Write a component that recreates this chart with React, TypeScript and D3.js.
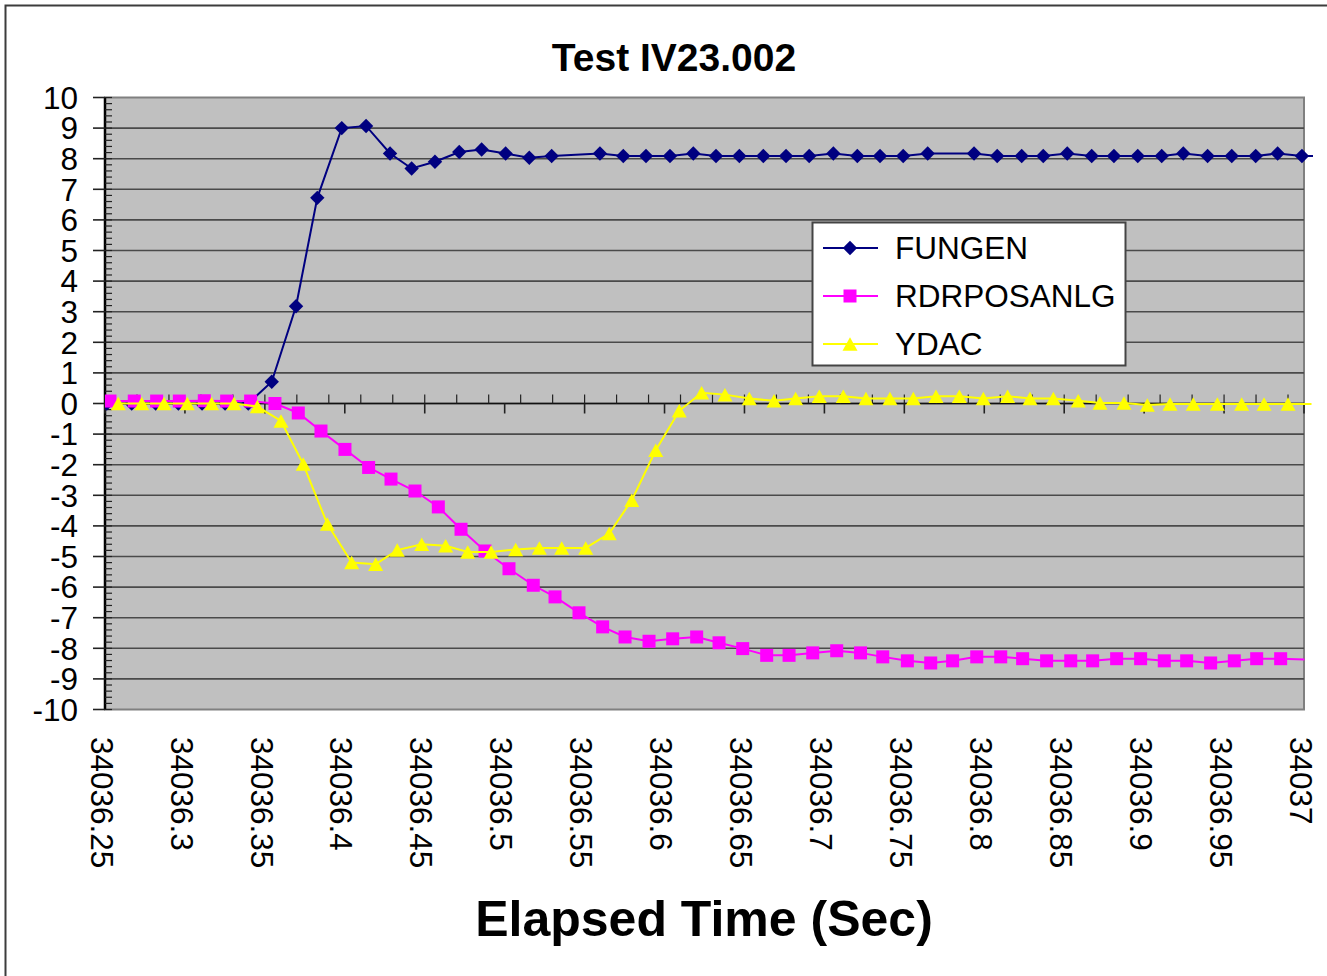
import React from "react";
import * as d3 from "d3";

// ---------- DATA ----------
const seriesNames = ["FUNGEN", "RDRPOSANLG", "YDAC"];

const fungenTime = [
  34036.2511, 34036.2667, 34036.2817, 34036.2959, 34036.3107, 34036.3251, 34036.3396,
  34036.3543, 34036.3695, 34036.3828, 34036.3981, 34036.4133, 34036.4283, 34036.4418,
  34036.4564, 34036.4716, 34036.4856, 34036.5006, 34036.5154, 34036.5294, 34036.5596,
  34036.5742, 34036.5884, 34036.6034, 34036.618, 34036.6322, 34036.6468, 34036.6618,
  34036.676, 34036.6905, 34036.7056, 34036.7206, 34036.7348, 34036.7493, 34036.7646,
  34036.7936, 34036.8081, 34036.8234, 34036.8369, 34036.8519, 34036.8672, 34036.8811,
  34036.896, 34036.911, 34036.9245, 34036.9397, 34036.9548, 34036.9698, 34036.9835,
  34036.9987, 34037.0131,
];
const fungenValue = [
  0, 0, 0, 0, 0, 0, 0,
  0.71, 3.18, 6.72, 9.0, 9.07, 8.17, 7.68,
  7.9, 8.22, 8.3, 8.17, 8.03, 8.09, 8.17,
  8.09, 8.09, 8.09, 8.17, 8.09, 8.09, 8.09,
  8.09, 8.09, 8.17, 8.09, 8.09, 8.09, 8.17,
  8.17, 8.09, 8.09, 8.09, 8.17, 8.09, 8.09,
  8.09, 8.09, 8.17, 8.09, 8.09, 8.09, 8.17,
  8.09, 8.09,
];

const rdrTime = [
  34036.2531, 34036.2683, 34036.2823, 34036.2965, 34036.3121, 34036.3261, 34036.3411,
  34036.3563, 34036.3709, 34036.3851, 34036.4001, 34036.4149, 34036.4289, 34036.4439,
  34036.4585, 34036.4727, 34036.4877, 34036.5027, 34036.5179, 34036.5315, 34036.5465,
  34036.5613, 34036.5753, 34036.5903, 34036.6051, 34036.6201, 34036.6341, 34036.6489,
  34036.6639, 34036.6779, 34036.6927, 34036.7077, 34036.7226, 34036.7365, 34036.7519,
  34036.7665, 34036.7802, 34036.7953, 34036.8103, 34036.824, 34036.839, 34036.8541,
  34036.8678, 34036.8828, 34036.8978, 34036.9126, 34036.9266, 34036.9416, 34036.9564,
  34036.9704, 34036.9854, 34037.0003,
];
const rdrValue = [
  0.08, 0.08, 0.08, 0.08, 0.09, 0.08, 0.08,
  0.0, -0.31, -0.9, -1.5, -2.09, -2.47, -2.86,
  -3.38, -4.11, -4.82, -5.4, -5.94, -6.32, -6.84,
  -7.3, -7.63, -7.77, -7.69, -7.63, -7.82, -8.01,
  -8.23, -8.23, -8.15, -8.08, -8.15, -8.28, -8.41,
  -8.48, -8.41, -8.28, -8.28, -8.34, -8.41, -8.41,
  -8.41, -8.34, -8.34, -8.41, -8.41, -8.48, -8.41,
  -8.34, -8.34, -8.37,
];

const ydacTime = [
  34036.2583, 34036.273, 34036.2869, 34036.3015, 34036.3167, 34036.3307, 34036.3453,
  34036.3601, 34036.374, 34036.3891, 34036.4043, 34036.4193, 34036.4328, 34036.4481,
  34036.4631, 34036.4769, 34036.4915, 34036.5069, 34036.5217, 34036.5357, 34036.5507,
  34036.5654, 34036.5795, 34036.5945, 34036.6092, 34036.6232, 34036.6378, 34036.653,
  34036.6685, 34036.682, 34036.6968, 34036.7118, 34036.726, 34036.741, 34036.7556,
  34036.7698, 34036.7844, 34036.7994, 34036.8146, 34036.8286, 34036.8432, 34036.8588,
  34036.8724, 34036.8874, 34036.902, 34036.9162, 34036.9307, 34036.9458, 34036.961,
  34036.975, 34036.99, 34037.0047,
];
const ydacValue = [
  0, 0, 0, 0, 0, 0, -0.1,
  -0.57, -1.98, -3.94, -5.2, -5.25, -4.79, -4.6,
  -4.65, -4.85, -4.85, -4.77, -4.72, -4.72, -4.72,
  -4.25, -3.16, -1.53, -0.24, 0.35, 0.29, 0.16,
  0.09, 0.16, 0.24, 0.24, 0.16, 0.16, 0.16,
  0.24, 0.24, 0.16, 0.24, 0.16, 0.16, 0.09,
  0.02, 0.02, -0.05, -0.02, -0.02, -0.02, -0.02,
  -0.02, -0.02, -0.02,
];

const xTickLabels = [
  "34036.25", "34036.3", "34036.35", "34036.4", "34036.45", "34036.5", "34036.55",
  "34036.6", "34036.65", "34036.7", "34036.75", "34036.8", "34036.85", "34036.9",
  "34036.95", "34037",
];
const yTickValues = [10, 9, 8, 7, 6, 5, 4, 3, 2, 1, 0, -1, -2, -3, -4, -5, -6, -7, -8, -9, -10];

const titleText = "Test IV23.002";
const xAxisTitle = "Elapsed Time (Sec)";

// ---------- LAYOUT ----------
const W = 1327;
const H = 976;
const plot = { left: 105, right: 1304, top: 97.5, bottom: 709.5 };
const FONT = "'Liberation Sans', Arial, Helvetica, sans-serif";
const colors = ["#000080", "#FF00FF", "#FFFF00"];

const xScale = d3.scaleLinear().domain([34036.25, 34037]).range([plot.left, plot.right]);
const yScale = d3.scaleLinear().domain([-10, 10]).range([plot.bottom, plot.top]);

type Pt = { t: number; v: number };
const zipSeries = (ts: number[], vs: number[]): Pt[] => ts.map((t, i) => ({ t, v: vs[i] }));
const seriesData: Pt[][] = [
  zipSeries(fungenTime, fungenValue),
  zipSeries(rdrTime, rdrValue),
  zipSeries(ydacTime, ydacValue),
];

const lineGen = d3
  .line<Pt>()
  .x((d) => xScale(d.t))
  .y((d) => yScale(d.v));

function Marker({ kind, x, y, color }: { kind: number; x: number; y: number; color: string }) {
  if (kind === 0) {
    const r = 7.2;
    return <path d={`M${x},${y - r}L${x + r},${y}L${x},${y + r}L${x - r},${y}Z`} fill={color} />;
  }
  if (kind === 1) {
    const s = 13;
    return <rect x={x - s / 2} y={y - s / 2} width={s} height={s} fill={color} />;
  }
  const w = 15;
  const h = 13.5;
  return (
    <path d={`M${x},${y - h / 2}L${x + w / 2},${y + h / 2}L${x - w / 2},${y + h / 2}Z`} fill={color} />
  );
}

export default function App() {
  const [xMin, xMax] = xScale.domain();
  const majorX = d3.range(0, 16).map((i) => xMin + i * 0.05);
  const minorX = d3.range(0, 38).map((i) => xMin + i * 0.02).filter((v) => v <= xMax + 1e-9);
  const minorY = d3.range(0, 101).map((i) => -10 + i * 0.2);
  const y0 = yScale(0);

  return (
    <svg
      width={W}
      height={H}
      style={{ position: "absolute", left: 0, top: 0, background: "#fff" }}
      fontFamily={FONT}
    >
      <defs>
        <clipPath id="plotClip">
          <rect x={plot.left} y={plot.top - 8} width={plot.right - plot.left + 9} height={plot.bottom - plot.top + 16} />
        </clipPath>
      </defs>
      {/* chart area border */}
      <rect x={5.5} y={5.5} width={1360} height={1000} fill="#fff" stroke="#3c3c3c" strokeWidth={2} />

      {/* title */}
      <text x={674} y={71} textAnchor="middle" fontSize={39} fontWeight="bold" fill="#000">
        {titleText}
      </text>

      {/* plot area */}
      <rect
        x={plot.left}
        y={plot.top}
        width={plot.right - plot.left}
        height={plot.bottom - plot.top}
        fill="#C0C0C0"
        stroke="#808080"
        strokeWidth={2}
      />
      {/* gridlines */}
      {yTickValues
        .filter((v) => v !== 10 && v !== -10)
        .map((v) => (
          <line
            key={`g${v}`}
            x1={plot.left}
            x2={plot.right}
            y1={yScale(v)}
            y2={yScale(v)}
            stroke="#4a4a4a"
            strokeWidth={1.6}
          />
        ))}

      {/* y axis */}
      <line x1={plot.left} x2={plot.left} y1={plot.top} y2={plot.bottom} stroke="#000" strokeWidth={2.5} />
      {yTickValues.map((v) => (
        <line key={`yt${v}`} x1={plot.left - 12} x2={plot.left} y1={yScale(v)} y2={yScale(v)} stroke="#222" strokeWidth={1.6} />
      ))}
      {minorY.map((v, i) => (
        <line key={`ym${i}`} x1={plot.left} x2={plot.left + 7} y1={yScale(v)} y2={yScale(v)} stroke="#222" strokeWidth={1.2} />
      ))}
      {yTickValues.map((v) => (
        <text
          key={`yl${v}`}
          x={78}
          y={yScale(v)}
          dy="0.36em"
          textAnchor="end"
          fontSize={31.5}
          fill="#000"
        >
          {v}
        </text>
      ))}

      {/* x axis at y = 0 */}
      <line x1={plot.left} x2={plot.right} y1={y0} y2={y0} stroke="#111" strokeWidth={1.6} />
      {majorX.map((v, i) => (
        <line key={`xt${i}`} x1={xScale(v)} x2={xScale(v)} y1={y0} y2={y0 + 10} stroke="#222" strokeWidth={1.6} />
      ))}
      {minorX.map((v, i) => (
        <line key={`xm${i}`} x1={xScale(v)} x2={xScale(v)} y1={y0 - 9} y2={y0} stroke="#222" strokeWidth={1.2} />
      ))}

      {/* series */}
      <g clipPath="url(#plotClip)">
        {seriesData.map((data, si) => (
          <g key={`s${si}`}>
            <path d={lineGen(data) || ""} fill="none" stroke={colors[si]} strokeWidth={2} />
            {data
              .filter((d) => d.t <= xMax)
              .map((d, i) => (
                <Marker key={i} kind={si} x={xScale(d.t)} y={yScale(d.v)} color={colors[si]} />
              ))}
          </g>
        ))}
      </g>

      {/* x tick labels (rotated) */}
      {majorX.map((v, i) => (
        <text
          key={`xl${i}`}
          transform={`translate(${xScale(v) - 3},${737}) rotate(90)`}
          dy="0.36em"
          textAnchor="start"
          fontSize={31.5}
          fill="#000"
        >
          {xTickLabels[i]}
        </text>
      ))}

      {/* x axis title */}
      <text x={704} y={936} textAnchor="middle" fontSize={50} fontWeight="bold" fill="#000">
        {xAxisTitle}
      </text>

      {/* legend */}
      <rect x={812.5} y={222.5} width={313} height={143} fill="#fff" stroke="#444" strokeWidth={2} />
      {seriesNames.map((name, i) => {
        const cy = 248 + i * 48;
        return (
          <g key={`lg${i}`}>
            <line x1={823} x2={878} y1={cy} y2={cy} stroke={colors[i]} strokeWidth={2} />
            <Marker kind={i} x={850} y={cy} color={colors[i]} />
            <text x={895} y={cy} dy="0.36em" fontSize={31.5} fill="#000">
              {name}
            </text>
          </g>
        );
      })}
    </svg>
  );
}
